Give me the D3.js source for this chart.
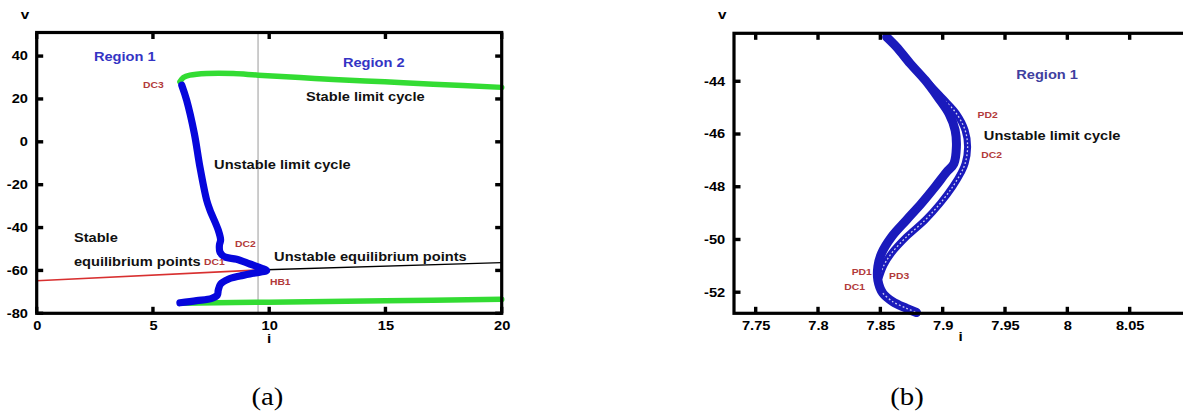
<!DOCTYPE html>
<html><head><meta charset="utf-8">
<script src="https://cdn.jsdelivr.net/npm/d3@7"></script>
<style>
html,body{margin:0;padding:0;background:#fff;overflow:hidden}
svg{display:block}
.tick text{font-weight:bold !important}
</style></head><body>
<svg id="c" width="1183" height="411"></svg>
<script>
// ---------- data: panel (a) ----------
const aXTicks = [0, 5, 10, 15, 20];
const aYTicks = [-80, -60, -40, -20, 0, 20, 40];
const aHopfCurrent = 9.52;
const aStableEquilibria = [[0, -64.8], [9.52, -59.8]];
const aUnstableEquilibria = [[9.52, -59.8], [20, -56.4]];
const aUnstableCycle = [
  [6.24, 26.4], [6.45, 19.4], [6.78, 3.9], [7.02, -11.7], [7.31, -27.2], [7.45, -31.8],
  [7.81, -41.2], [7.91, -45.8], [7.86, -48.1], [7.88, -51.3], [8.06, -53.6], [8.60, -54.8],
  [9.17, -57.0], [9.68, -59.0], [9.89, -60.1], [9.32, -61.3], [8.74, -62.6], [8.24, -64.1],
  [7.91, -66.3], [7.81, -69.1], [7.77, -71.5], [7.53, -73.0], [6.88, -74.1], [6.16, -75.1]
];
const aStableCycleUpper = [
  [6.16, 28.0], [6.31, 30.0], [6.59, 31.1], [7.31, 31.9], [8.46, 31.9], [9.53, 31.1],
  [11.32, 30.0], [12.76, 29.1], [14.98, 28.0], [17.06, 26.9], [20.0, 25.4]
];
const aStableCycleLower = [[6.16, -75.3], [10, -74.8], [15, -74.2], [20, -73.5]];
const aAnnotations = [
  {text: "Region 1", i: 2.46, v: 39.5, kind: "region"},
  {text: "Region 2", i: 13.17, v: 36.7, kind: "region"},
  {text: "DC3", i: 4.57, v: 26.5, kind: "point"},
  {text: "Stable limit cycle", i: 11.58, v: 20.9, kind: "state"},
  {text: "Unstable limit cycle", i: 7.63, v: -10.8, kind: "state"},
  {text: "Stable", i: 1.60, v: -44.7, kind: "state"},
  {text: "equilibrium points", i: 1.60, v: -55.9, kind: "state"},
  {text: "DC1", i: 7.20, v: -55.9, kind: "point"},
  {text: "DC2", i: 8.53, v: -47.4, kind: "point"},
  {text: "Unstable equilibrium points", i: 10.21, v: -53.9, kind: "state"},
  {text: "HB1", i: 10.03, v: -65.3, kind: "point"}
];

// ---------- data: panel (b) ----------
const bXTicks = [7.75, 7.8, 7.85, 7.9, 7.95, 8, 8.05];
const bYTicks = [-52, -50, -48, -46, -44];
const bInnerBranch = [
  [7.855, -42.32], [7.863, -42.70], [7.874, -43.33], [7.886, -43.96], [7.896, -44.59],
  [7.905, -45.22], [7.910, -45.86], [7.911, -46.49], [7.909, -47.12], [7.903, -47.45],
  [7.894, -48.00], [7.883, -48.63], [7.871, -49.26], [7.859, -49.90], [7.851, -50.52],
  [7.848, -51.03], [7.848, -51.54], [7.852, -52.04], [7.860, -52.36], [7.871, -52.61],
  [7.879, -52.77]
];
const bOuterBranch = [
  [7.857, -42.38], [7.865, -42.83], [7.876, -43.43], [7.888, -44.04], [7.900, -44.64],
  [7.911, -45.22], [7.918, -45.86], [7.920, -46.49], [7.918, -47.12], [7.915, -47.45],
  [7.908, -48.00], [7.898, -48.63], [7.886, -49.26], [7.871, -49.90], [7.859, -50.52],
  [7.853, -50.97], [7.849, -51.46]
];
const bAnnotations = [
  {text: "Region 1", i: 7.959, v: -43.77, kind: "region"},
  {text: "PD2", i: 7.928, v: -45.29, kind: "point"},
  {text: "Unstable limit cycle", i: 7.933, v: -46.08, kind: "state"},
  {text: "DC2", i: 7.931, v: -46.78, kind: "point"},
  {text: "PD1", i: 7.827, v: -51.22, kind: "point"},
  {text: "PD3", i: 7.857, v: -51.38, kind: "point"},
  {text: "DC1", i: 7.821, v: -51.79, kind: "point"}
];

// ---------- drawing ----------
const SX = 1.22;             // horizontal stretch of the original figure's text
const FONT = "'Liberation Sans', Arial, sans-serif";
const svg = d3.select("#c");
svg.append("rect").attr("width", 1183).attr("height", 411).attr("fill", "#fff");

function stretchedText(g, x, y, text, o) {
  return g.append("text")
    .attr("transform", `translate(${x},${y}) scale(${o.sx || SX},1)`)
    .attr("text-anchor", o.anchor || "start")
    .attr("dominant-baseline", o.baseline || "central")
    .style("font-family", o.family || FONT)
    .style("font-weight", o.weight || "bold")
    .style("font-size", o.size + "px")
    .attr("fill", o.color || "#000")
    .text(text);
}

function drawAxes(g, sx, sy, xt, yt) {
  const [x0, x1] = sx.range(), [y0, y1] = sy.range();
  const fmt = d => String(d);
  const bottom = g.append("g").attr("transform", `translate(0,${y0})`)
    .call(d3.axisBottom(sx).tickValues(xt).tickSize(0).tickPadding(8.2).tickFormat(fmt));
  const left = g.append("g").attr("transform", `translate(${x0},0)`)
    .call(d3.axisLeft(sy).tickValues(yt).tickSize(0).tickPadding(8.8).tickFormat(fmt));
  [bottom, left].forEach(a => {
    a.select(".domain").remove();
    a.selectAll(".tick line").remove();
    a.selectAll(".tick text")
      .style("font-size", "12px").style("font-family", FONT)
      .style("font-weight", "bold").attr("fill", "#000");
  });
  left.selectAll(".tick text").each(function () {
    const t = d3.select(this);
    t.attr("x", +t.attr("x") / SX).attr("transform", `scale(${SX},1)`);
  });
  bottom.selectAll(".tick text").attr("transform", `scale(${SX},1)`);
  // inward tick marks (small squares) on all four sides, placed through the scales
  const TL = 6.5, TW = 3.4;
  const marks = g.append("g").attr("fill", "#000");
  xt.forEach(t => {
    marks.append("rect").attr("x", sx(t) - TW / 2).attr("y", y0 - TL).attr("width", TW).attr("height", TL);
    marks.append("rect").attr("x", sx(t) - TW / 2).attr("y", y1).attr("width", TW).attr("height", TL);
  });
  yt.forEach(t => {
    marks.append("rect").attr("x", x0).attr("y", sy(t) - TW / 2).attr("width", TL).attr("height", TW);
    marks.append("rect").attr("x", x1 - TL).attr("y", sy(t) - TW / 2).attr("width", TL).attr("height", TW);
  });
  g.append("rect").attr("x", x0).attr("y", y1).attr("width", x1 - x0).attr("height", y0 - y1)
    .attr("fill", "none").attr("stroke", "#000").attr("stroke-width", 3.2);
}

function annotate(g, sx, sy, list, regionColor) {
  const styles = {
    region: {size: 12, color: regionColor},
    state: {size: 12, color: "#111"},
    point: {size: 8.5, color: "#b23a3a"}
  };
  list.forEach(a => stretchedText(g, sx(a.i), sy(a.v), a.text, styles[a.kind]));
}

// ----- panel (a) -----
const ax = d3.scaleLinear().domain([0, 20]).range([36.7, 501.7]);
const ay = d3.scaleLinear().domain([-80, 51]).range([313.3, 32.5]);
const gA = svg.append("g");
const lineA = d3.line().x(d => ax(d[0])).y(d => ay(d[1]));
const smoothA = d3.line().x(d => ax(d[0])).y(d => ay(d[1])).curve(d3.curveCatmullRom.alpha(0.5));

gA.append("line").attr("x1", ax(aHopfCurrent)).attr("x2", ax(aHopfCurrent))
  .attr("y1", ay.range()[1]).attr("y2", ay.range()[0]).attr("stroke", "#9a9a9a").attr("stroke-width", 1);
gA.append("path").attr("d", lineA(aStableEquilibria)).attr("fill", "none").attr("stroke", "#d83030").attr("stroke-width", 1.6);
gA.append("path").attr("d", lineA(aUnstableEquilibria)).attr("fill", "none").attr("stroke", "#000").attr("stroke-width", 1.3);
gA.append("path").attr("d", smoothA(aStableCycleUpper)).attr("fill", "none").attr("stroke", "#33dc33")
  .attr("stroke-width", 5.5).attr("stroke-linecap", "round").attr("stroke-linejoin", "round");
gA.append("path").attr("d", smoothA(aStableCycleLower)).attr("fill", "none").attr("stroke", "#33dc33")
  .attr("stroke-width", 5.5).attr("stroke-linecap", "round");
gA.append("path").attr("d", smoothA(aUnstableCycle)).attr("fill", "none").attr("stroke", "#0606dc")
  .attr("stroke-width", 7.2).attr("stroke-linecap", "round").attr("stroke-linejoin", "round");

drawAxes(gA, ax, ay, aXTicks, aYTicks);
annotate(gA, ax, ay, aAnnotations, "#3434c4");
stretchedText(gA, 25, 18.5, "v", {size: 12.5, anchor: "middle", baseline: "alphabetic"});
stretchedText(gA, d3.mean(ax.range()), 342.5, "i", {size: 12.5, anchor: "middle", baseline: "alphabetic"});
stretchedText(gA, 267.5, 404.5, "(a)", {size: 25, anchor: "middle", baseline: "alphabetic",
  family: "'Liberation Serif', 'Times New Roman', serif", weight: "normal", sx: 1.15});

// ----- panel (b) -----
const bx = d3.scaleLinear().domain([7.7326, 8.1]).range([734, 1192]);
const by = d3.scaleLinear().domain([-52.8, -42.18]).range([313.3, 33.3]);
const gB = svg.append("g");
const smoothB = d3.line().x(d => bx(d[0])).y(d => by(d[1])).curve(d3.curveCatmullRom.alpha(0.5));
const blueB = "#1a1abc";

gB.append("path").attr("d", smoothB(bOuterBranch)).attr("fill", "none").attr("stroke", blueB)
  .attr("stroke-width", 7).attr("stroke-linecap", "round");
gB.append("path").attr("d", smoothB(bOuterBranch)).attr("fill", "none").attr("stroke", "#fff")
  .attr("stroke-width", 1.3).attr("stroke-dasharray", "1.8 2.2").attr("opacity", 0.8);
gB.append("path").attr("d", smoothB(bInnerBranch)).attr("fill", "none").attr("stroke", blueB)
  .attr("stroke-width", 9).attr("stroke-linecap", "round");
gB.append("path").attr("d", smoothB(bInnerBranch.slice(17))).attr("fill", "none").attr("stroke", "#fff")
  .attr("stroke-width", 1.3).attr("stroke-dasharray", "1.8 2.2").attr("opacity", 0.8);

drawAxes(gB, bx, by, bXTicks, bYTicks);
annotate(gB, bx, by, bAnnotations, "#3f3f9f");
stretchedText(gB, 722.3, 18.5, "v", {size: 12.5, anchor: "middle", baseline: "alphabetic"});
stretchedText(gB, 960.7, 341, "i", {size: 12.5, anchor: "middle", baseline: "alphabetic"});
stretchedText(gB, 907, 404.5, "(b)", {size: 25, anchor: "middle", baseline: "alphabetic",
  family: "'Liberation Serif', 'Times New Roman', serif", weight: "normal", sx: 1.15});
</script>
</body></html>
